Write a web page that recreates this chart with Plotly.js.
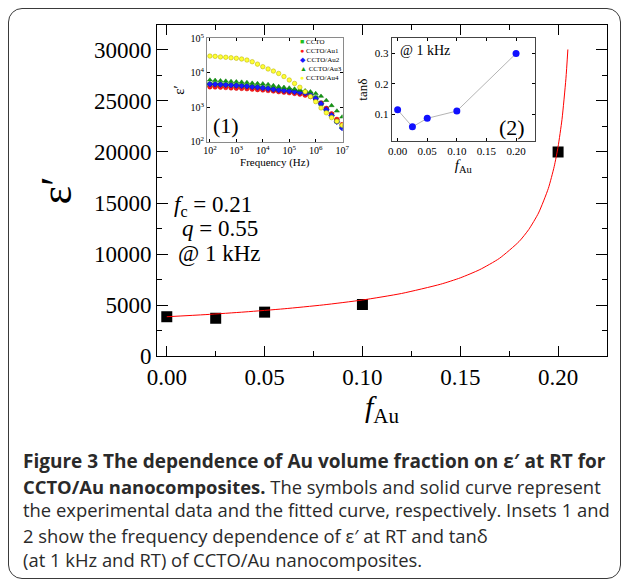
<!DOCTYPE html>
<html><head><meta charset="utf-8">
<script src="https://cdn.plot.ly/plotly-3.0.1.min.js"></script>
<style>
html,body{margin:0;padding:0;background:#fff;}
#wrap{position:relative;width:627px;height:585px;overflow:hidden;}
#chart{position:absolute;left:0;top:0;width:627px;height:585px;}
#frame{position:absolute;left:8px;top:8px;width:611px;height:569px;border:1.5px solid #3a3a3a;border-radius:14px;pointer-events:none;}
</style></head><body>
<div id="wrap"><div id="chart"></div><div id="frame"></div></div>
<script>
// ---- main panel: epsilon' vs Au volume fraction (1 kHz) ----
const fAu = [0, 0.025, 0.05, 0.10, 0.20];
const epsMain = [3850, 3700, 4300, 5050, 20000];
// fitted percolation curve (fc = 0.21, q = 0.55)
const fitF   = [0, 0.02, 0.04, 0.06, 0.08, 0.10, 0.12, 0.14, 0.15, 0.16, 0.17, 0.18, 0.185, 0.19, 0.195, 0.198, 0.20, 0.202, 0.204, 0.205];
const fitEps = [3850, 4060, 4320, 4630, 5010, 5490, 6130, 7040, 7660, 8470, 9570, 11210, 12400, 14020, 16420, 18560, 20520, 23200, 27180, 30050];

// ---- inset 2: tan(delta) at 1 kHz ----
const tanD = [0.115, 0.059, 0.087, 0.111, 0.300];

// ---- inset 1: epsilon' vs frequency ----
const freqHz = [100, 158, 251, 398, 631, 1000, 1585, 2512, 3981, 6310, 10000, 15849, 25119, 39811, 63096,
                100000, 158489, 251189, 398107, 630957, 1000000, 1584893, 2511886, 3981072, 6309573, 10000000];
const epsCCTO = [4500, 4450, 4400, 4320, 4250, 4170, 4100, 4000, 3850, 3750, 3600, 3450, 3300, 3170, 3060,
                 2960, 2850, 2730, 2600, 2350, 1850, 1300, 880, 600, 400, 270];
const epsAu1 = [3890, 3850, 3800, 3720, 3630, 3550, 3510, 3430, 3350, 3240, 3160, 3050, 2950, 2820, 2720,
                2630, 2510, 2400, 2240, 2040, 1740, 1320, 930, 645, 445, 315];
const epsAu2 = [4680, 4620, 4570, 4470, 4370, 4270, 4170, 4070, 3890, 3800, 3630, 3470, 3310, 3160, 3050,
                2950, 2820, 2690, 2570, 2290, 1780, 1260, 850, 575, 380, 250];
const epsAu3 = [6170, 6030, 5890, 5750, 5620, 5500, 5370, 5250, 5010, 4900, 4790, 4570, 4270, 3980, 3800,
                3630, 3390, 3160, 3020, 2820, 2510, 2090, 1580, 1120, 780, 525];
const epsAu4 = [30500, 29900, 28800, 28200, 27200, 26300, 25100, 23400, 20900, 17800, 15000, 12900, 11200, 9550, 7760,
                6170, 4900, 3800, 2820, 2040, 1450, 955, 690, 500, 390, 300];
const seriesNames = ['CCTO', 'CCTO/Au1', 'CCTO/Au2', 'CCTO/Au3', 'CCTO/Au4'];
const seriesEps = [epsCCTO, epsAu1, epsAu2, epsAu3, epsAu4];
const seriesColor = ['#1fbf1f', '#ff1a1a', '#1a1aff', '#129a12', '#ffff33'];
const seriesLine = ['#109010', '#d00000', '#0000c0', '#0a700a', '#b0a800'];
const seriesSymbol = ['square', 'circle', 'diamond', 'triangle-up', 'circle'];
const legendGlyph = ['\u25A0', '\u25CF', '\u25C6', '\u25B2', '\u25CF'];

const SERIF = 'Liberation Serif, Times New Roman, serif';
const SANS = 'Open Sans, Noto Sans, sans-serif';

const traces = [];
traces.push({x: fAu, y: epsMain, type: 'scatter', mode: 'markers', xaxis: 'x', yaxis: 'y',
  marker: {symbol: 'square', size: 11, color: '#000'}, showlegend: false});
traces.push({x: fitF, y: fitEps, type: 'scatter', mode: 'lines', xaxis: 'x', yaxis: 'y',
  line: {color: '#ff0000', width: 1, shape: 'spline', smoothing: 0.6}, showlegend: false});
for (let i = 0; i < seriesNames.length; i++) {
  traces.push({x: freqHz, y: seriesEps[i], name: seriesNames[i], type: 'scatter', mode: 'markers',
    xaxis: 'x2', yaxis: 'y2',
    marker: {symbol: seriesSymbol[i], size: 4.5, color: seriesColor[i], line: {color: seriesLine[i], width: 0.5}},
    showlegend: false});
}
traces.push({x: fAu, y: tanD, type: 'scatter', mode: 'lines+markers', xaxis: 'x3', yaxis: 'y3',
  line: {color: '#b4b4b4', width: 1}, marker: {color: '#1010ff', size: 7}, showlegend: false});

function px2x(p) { return (p - 157) / 450; }
function px2y(p) { return (356 - p) / 331; }

const annotations = [];
function ann(text, x, y, size, opts) {
  annotations.push(Object.assign({xref: 'paper', yref: 'paper', x: px2x(x), y: px2y(y), text: text,
    showarrow: false, xanchor: 'left', yanchor: 'middle', font: {family: SERIF, size: size, color: '#000'}}, opts || {}));
}
ann('<i>f</i><sub>c</sub> = 0.21', 172, 206, 23);
ann('<i>q</i> = 0.55', 180, 228, 23);
ann('@ 1 kHz', 176, 253, 23);
ann('(1)', 226, 125, 22, {xanchor: 'center'});
ann('@ 1 kHz', 398, 50, 14);
ann('(2)', 512, 128, 22, {xanchor: 'center'});
// inset-1 legend
let leg = [];
for (let i = 0; i < seriesNames.length; i++) {
  leg.push('<span style="color:' + seriesColor[i] + '">' + legendGlyph[i] + '</span> ' + seriesNames[i]);
}
ann(leg.join('<br>'), 298, 60, 7, {align: 'left', font: {family: SERIF, size: 7, color: '#000'}});

// caption
const capLines = [
  '<b>Figure 3 The dependence of Au volume fraction on \u03B5\u2032 at RT for</b>',
  '<b>CCTO/Au nanocomposites.</b> The symbols and solid curve represent',
  'the experimental data and the fitted curve, respectively. Insets 1 and',
  '2 show the frequency dependence of \u03B5\u2032 at RT and tan\u03B4',
  '(at 1 kHz and RT) of CCTO/Au nanocomposites.'
];
const capY = [461, 486, 510, 535, 559];
const capSize = [19, 18.4, 18.4, 18.4, 18.4];
for (let i = 0; i < capLines.length; i++) {
  ann(capLines[i], 21, capY[i], capSize[i], {font: {family: SANS, size: capSize[i], color: '#2a2a2a'}});
}

const axBase = {showgrid: false, zeroline: false, showline: true, linecolor: '#000', linewidth: 1,
  mirror: 'ticks', ticks: 'inside', tickcolor: '#000'};

const layout = {
  width: 627, height: 585,
  margin: {l: 157, r: 20, t: 25, b: 229},
  paper_bgcolor: 'rgba(0,0,0,0)', plot_bgcolor: '#fff',
  showlegend: false,
  xaxis: Object.assign({}, axBase, {domain: [0, 1], anchor: 'y', range: [-0.005, 0.225], tick0: 0, dtick: 0.05,
    tickformat: '.2f', ticklen: 10, tickwidth: 1,
    minor: {ticks: 'inside', ticklen: 5, dtick: 0.025, tick0: 0, tickcolor: '#000'},
    tickfont: {family: SERIF, size: 23, color: '#000'},
    title: {text: '<i>f</i><sub>Au</sub>', font: {family: SERIF, size: 30, color: '#000'}, standoff: 6}}),
  yaxis: Object.assign({}, axBase, {domain: [0, 1], anchor: 'x', range: [0, 32450], tick0: 0, dtick: 5000,
    tickformat: 'd', ticklen: 11, tickwidth: 1,
    minor: {ticks: 'inside', ticklen: 5, dtick: 2500, tick0: 0, tickcolor: '#000'},
    tickfont: {family: SERIF, size: 23, color: '#000'},
    title: {text: '\u03B5\u2032', font: {family: SERIF, size: 44, color: '#000'}, standoff: 8}}),
  xaxis2: Object.assign({}, axBase, {domain: [px2x(206.7), px2x(342.7)], anchor: 'y2', type: 'log',
    range: [1.88, 7.02], dtick: 1, exponentformat: 'power', ticklen: 3, linecolor: '#8a8a8a',
    tickfont: {family: SERIF, size: 8, color: '#000'},
    title: {text: 'Frequency (Hz)', font: {family: SERIF, size: 11, color: '#000'}, standoff: 2}}),
  yaxis2: Object.assign({}, axBase, {domain: [px2y(141.7), px2y(38.3)], anchor: 'x2', type: 'log',
    range: [2, 5], dtick: 1, exponentformat: 'power', ticklen: 3, linecolor: '#8a8a8a',
    tickfont: {family: SERIF, size: 8, color: '#000'},
    title: {text: '\u03B5\u2032', font: {family: SERIF, size: 15, color: '#000'}, standoff: 2}}),
  xaxis3: Object.assign({}, axBase, {domain: [px2x(391.7), px2x(535)], anchor: 'y3', range: [-0.01, 0.232],
    tick0: 0, dtick: 0.05, tickformat: '.2f', ticklen: 3, linecolor: '#444',
    tickfont: {family: SERIF, size: 11, color: '#000'},
    title: {text: '<i>f</i><sub>Au</sub>', font: {family: SERIF, size: 15, color: '#000'}, standoff: 2}}),
  yaxis3: Object.assign({}, axBase, {domain: [px2y(141), px2y(38.3)], anchor: 'x3', range: [0.0125, 0.35],
    tick0: 0, dtick: 0.1, tickformat: '.1f', ticklen: 3, linecolor: '#444',
    tickfont: {family: SERIF, size: 11, color: '#000'},
    title: {text: 'tan\u03B4', font: {family: SERIF, size: 13, color: '#000'}, standoff: 4}}),
  annotations: annotations
};

Plotly.newPlot('chart', traces, layout, {staticPlot: true, displayModeBar: false});
</script>
</body></html>
